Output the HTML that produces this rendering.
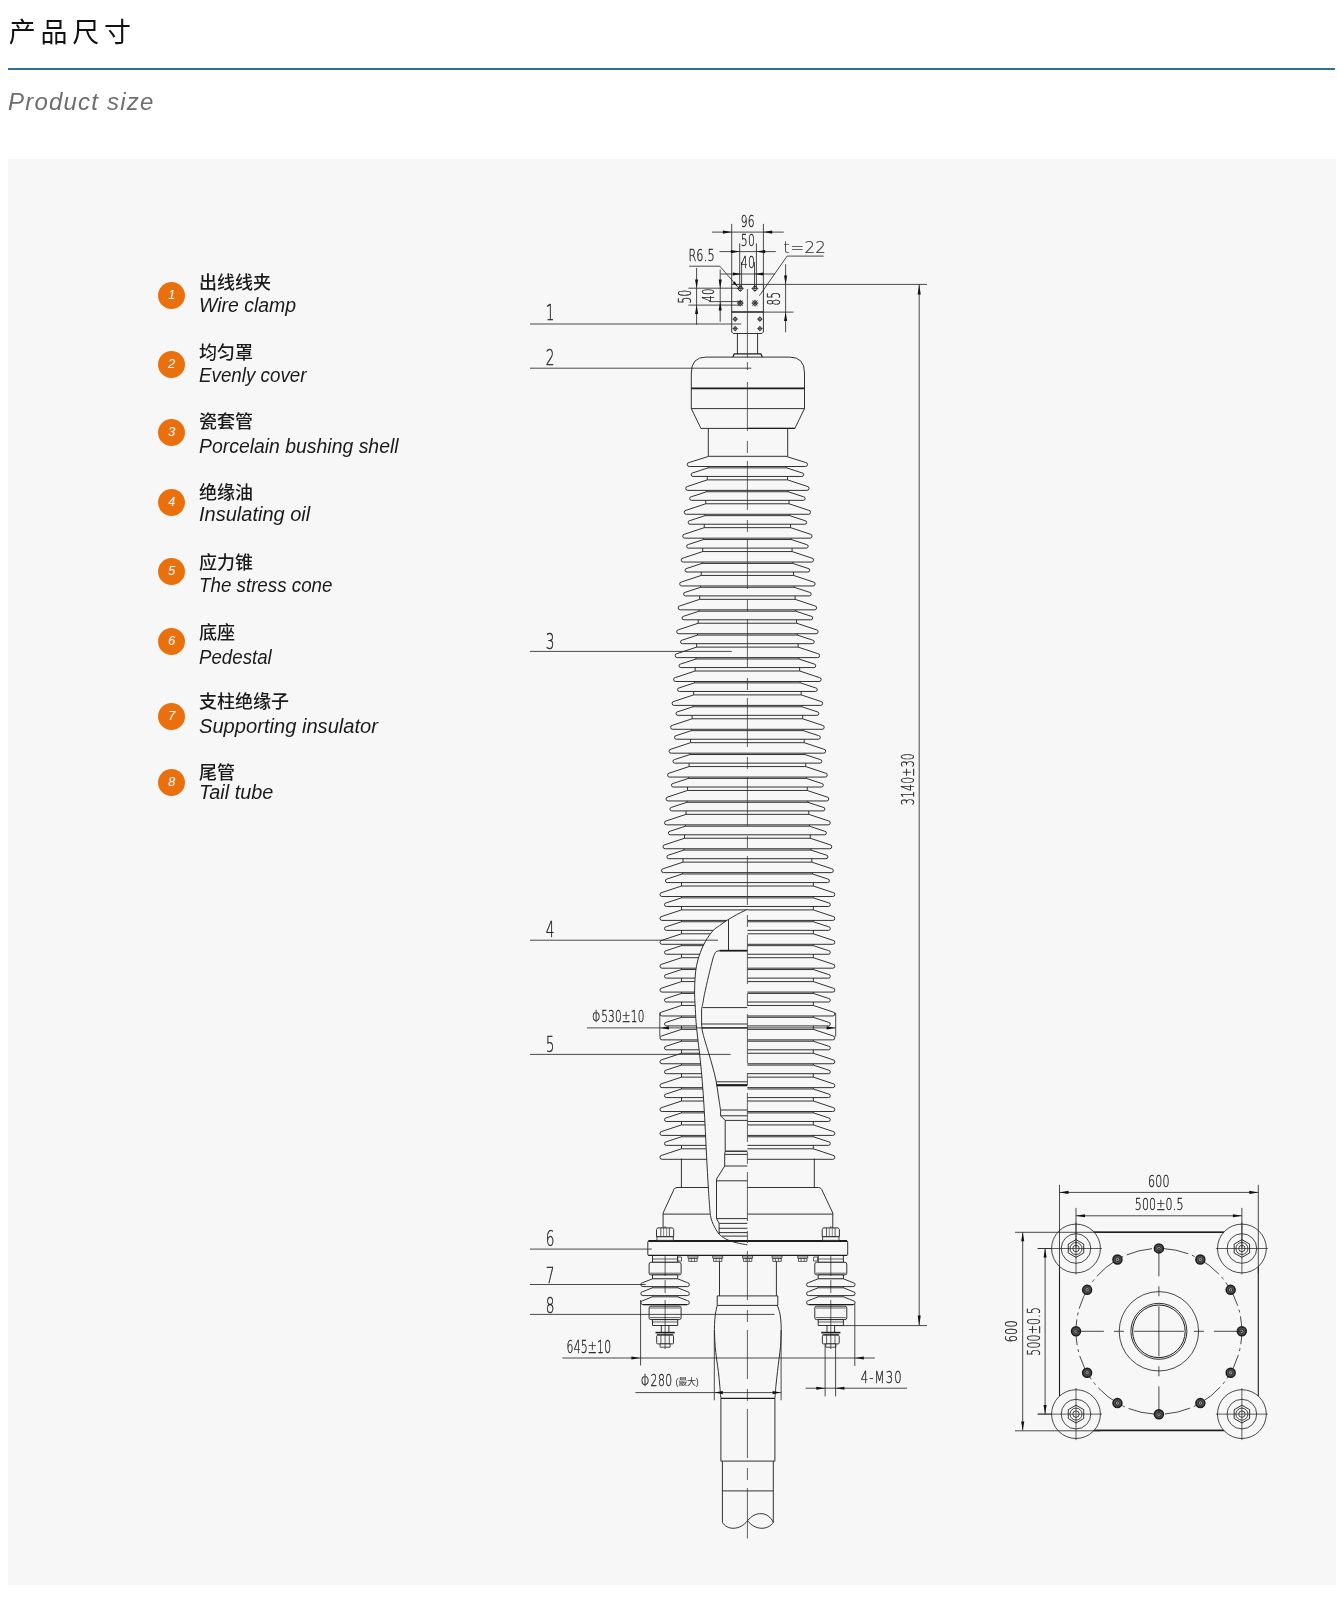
<!DOCTYPE html>
<html lang="zh-CN"><head><meta charset="utf-8"><title>产品尺寸 Product size</title>
<style>
*{margin:0;padding:0;box-sizing:border-box}
html,body{width:1338px;height:1600px;background:#fff;overflow:hidden}
body{position:relative;font-family:"Liberation Sans","Noto Sans CJK SC",sans-serif;color:#111}
.ttl{position:absolute;left:8.8px;top:13.4px;font-family:"Liberation Sans","Noto Sans CJK SC",sans-serif;font-size:27px;line-height:40px;letter-spacing:4.7px;color:#111;white-space:nowrap}
.rule{position:absolute;left:8px;top:68.4px;width:1327px;height:2px;background:#2f6f98}
.sub{position:absolute;left:8px;top:87px;font-size:24px;line-height:30px;font-style:italic;color:#6e6e6e;letter-spacing:1.2px;white-space:nowrap}
.panel{position:absolute;left:8px;top:159px;width:1328px;height:1426px;background:#f7f7f7}
.dot{position:absolute;left:158.2px;width:27px;height:27px;border-radius:50%;background:#ea700d;color:#fff;font-style:italic;font-size:12.5px;line-height:27px;text-align:center}
.zh{position:absolute;left:199px;font-family:"Liberation Sans","Noto Sans CJK SC",sans-serif;font-size:18px;line-height:22px;font-weight:500;color:#1a1a1a;white-space:nowrap}
.en{position:absolute;left:199px;font-size:19.5px;line-height:24px;font-style:italic;color:#1a1a1a;white-space:nowrap;transform-origin:0 50%}
svg{position:absolute;left:0;top:0;filter:grayscale(1)}
.ttl,.sub,.zh,.en{filter:grayscale(1)}
</style></head>
<body>
<div class="ttl">产品尺寸</div>
<div class="rule"></div>
<div class="sub">Product size</div>
<div class="panel"></div>
<div class="dot" style="top:282.2px">1</div>
<div class="zh" id="zh0" style="top:271.6px">出线线夹</div>
<div class="en" id="en0" style="top:293.2px;transform:scaleX(0.9980)">Wire clamp</div>
<div class="dot" style="top:350.7px">2</div>
<div class="zh" id="zh1" style="top:341.6px">均匀罩</div>
<div class="en" id="en1" style="top:362.5px;transform:scaleX(0.9630)">Evenly cover</div>
<div class="dot" style="top:418.6px">3</div>
<div class="zh" id="zh2" style="top:411.2px">瓷套管</div>
<div class="en" id="en2" style="top:434.3px;transform:scaleX(0.9950)">Porcelain bushing shell</div>
<div class="dot" style="top:489.4px">4</div>
<div class="zh" id="zh3" style="top:481.5px">绝缘油</div>
<div class="en" id="en3" style="top:502.4px;transform:scaleX(1.0260)">Insulating oil</div>
<div class="dot" style="top:558.4px">5</div>
<div class="zh" id="zh4" style="top:551.6px">应力锥</div>
<div class="en" id="en4" style="top:573.2px;transform:scaleX(0.9620)">The stress cone</div>
<div class="dot" style="top:628.3px">6</div>
<div class="zh" id="zh5" style="top:621.6px">底座</div>
<div class="en" id="en5" style="top:644.6px;transform:scaleX(0.9580)">Pedestal</div>
<div class="dot" style="top:702.5px">7</div>
<div class="zh" id="zh6" style="top:691.3px">支柱绝缘子</div>
<div class="en" id="en6" style="top:714.3px;transform:scaleX(1.0320)">Supporting insulator</div>
<div class="dot" style="top:769.4px">8</div>
<div class="zh" id="zh7" style="top:761.5px">尾管</div>
<div class="en" id="en7" style="top:780.0px;transform:scaleX(1.0190)">Tail tube</div>
<svg width="1338" height="1600" viewBox="0 0 1338 1600">
<defs><clipPath id="cc"><path d="M0 0H1338V1600H0Z M747.4 909.4C745.75 910.2 740.75 912.47 737.5 914.2C734.25 915.93 730.9 917.9 727.9 919.8C724.9 921.7 722.02 923.77 719.5 925.6C716.98 927.43 715.13 928.18 712.8 930.8C710.47 933.42 707.6 937.63 705.5 941.3C703.4 944.97 701.68 948.8 700.2 952.8C698.72 956.8 697.47 960.95 696.6 965.3C695.73 969.65 695.33 974.02 695 978.9C694.67 983.78 694.57 990.13 694.6 994.6C694.63 999.07 694.97 1001.23 695.2 1005.7C695.43 1010.17 695.6 1016.17 696 1021.4C696.4 1026.63 696.98 1031.52 697.6 1037.1C698.22 1042.68 699 1048.45 699.7 1054.9C700.4 1061.35 701.15 1068.3 701.8 1075.8C702.45 1083.3 703.07 1091.87 703.6 1099.9C704.13 1107.93 704.5 1114.5 705 1124C705.5 1133.5 706.05 1146.4 706.6 1156.9C707.15 1167.4 707.77 1178.33 708.3 1187C708.83 1195.67 709.35 1203.73 709.8 1208.9C710.25 1214.07 710.42 1215.42 711 1218C711.58 1220.58 712.47 1222.47 713.3 1224.4C714.13 1226.33 715.03 1227.98 716 1229.6C716.97 1231.22 717.85 1232.77 719.1 1234.1C720.35 1235.43 721.88 1236.57 723.5 1237.6C725.12 1238.63 726.55 1239.42 728.8 1240.3C731.05 1241.18 733.9 1242.15 737 1242.9C740.1 1243.65 745.67 1244.48 747.4 1244.8Z" clip-rule="evenodd"/></clipPath></defs>
<style>.d{fill:none;stroke:#1c1c1c;stroke-width:.9;stroke-linejoin:round}.dl{stroke:#2a2a2a;stroke-width:.85}.ar{fill:#111;stroke:none}.ct{font-family:"DejaVu Sans","Liberation Sans",sans-serif;font-weight:200;fill:#222;stroke:#222;stroke-width:.35}.ct2{font-family:"DejaVu Sans","Liberation Sans",sans-serif;font-weight:200;fill:#333;stroke:#333;stroke-width:.2}.cz{font-family:"Liberation Sans","Noto Sans CJK SC",sans-serif;fill:#333;stroke:none}</style>
<g class="d">
<g clip-path="url(#cc)"><line x1="708.3" y1="428.4" x2="708.3" y2="456.3"/>
<line x1="787.7" y1="428.4" x2="787.7" y2="456.3"/>
<line x1="708.17" y1="466.5" x2="708.17" y2="467.85"/>
<line x1="786.63" y1="466.5" x2="786.63" y2="467.85"/>
<line x1="707.28" y1="476.45" x2="707.28" y2="479.89"/>
<line x1="787.52" y1="476.45" x2="787.52" y2="479.89"/>
<line x1="706.65" y1="490.39" x2="706.65" y2="491.74"/>
<line x1="788.15" y1="490.39" x2="788.15" y2="491.74"/>
<line x1="705.77" y1="500.34" x2="705.77" y2="503.78"/>
<line x1="789.03" y1="500.34" x2="789.03" y2="503.78"/>
<line x1="705.13" y1="514.28" x2="705.13" y2="515.63"/>
<line x1="789.67" y1="514.28" x2="789.67" y2="515.63"/>
<line x1="704.25" y1="524.23" x2="704.25" y2="527.67"/>
<line x1="790.55" y1="524.23" x2="790.55" y2="527.67"/>
<line x1="703.62" y1="538.17" x2="703.62" y2="539.52"/>
<line x1="791.18" y1="538.17" x2="791.18" y2="539.52"/>
<line x1="702.73" y1="548.12" x2="702.73" y2="551.56"/>
<line x1="792.07" y1="548.12" x2="792.07" y2="551.56"/>
<line x1="702.1" y1="562.06" x2="702.1" y2="563.41"/>
<line x1="792.7" y1="562.06" x2="792.7" y2="563.41"/>
<line x1="701.21" y1="572.01" x2="701.21" y2="575.45"/>
<line x1="793.59" y1="572.01" x2="793.59" y2="575.45"/>
<line x1="700.58" y1="585.95" x2="700.58" y2="587.3"/>
<line x1="794.22" y1="585.95" x2="794.22" y2="587.3"/>
<line x1="699.7" y1="595.9" x2="699.7" y2="599.34"/>
<line x1="795.1" y1="595.9" x2="795.1" y2="599.34"/>
<line x1="699.07" y1="609.84" x2="699.07" y2="611.19"/>
<line x1="795.73" y1="609.84" x2="795.73" y2="611.19"/>
<line x1="698.18" y1="619.79" x2="698.18" y2="623.23"/>
<line x1="796.62" y1="619.79" x2="796.62" y2="623.23"/>
<line x1="697.55" y1="633.73" x2="697.55" y2="635.08"/>
<line x1="797.25" y1="633.73" x2="797.25" y2="635.08"/>
<line x1="696.66" y1="643.68" x2="696.66" y2="647.12"/>
<line x1="798.14" y1="643.68" x2="798.14" y2="647.12"/>
<line x1="696.03" y1="657.62" x2="696.03" y2="658.97"/>
<line x1="798.77" y1="657.62" x2="798.77" y2="658.97"/>
<line x1="695.15" y1="667.57" x2="695.15" y2="671.01"/>
<line x1="799.65" y1="667.57" x2="799.65" y2="671.01"/>
<line x1="694.52" y1="681.51" x2="694.52" y2="682.86"/>
<line x1="800.28" y1="681.51" x2="800.28" y2="682.86"/>
<line x1="693.63" y1="691.46" x2="693.63" y2="694.9"/>
<line x1="801.17" y1="691.46" x2="801.17" y2="694.9"/>
<line x1="693" y1="705.4" x2="693" y2="706.75"/>
<line x1="801.8" y1="705.4" x2="801.8" y2="706.75"/>
<line x1="692.11" y1="715.35" x2="692.11" y2="718.79"/>
<line x1="802.69" y1="715.35" x2="802.69" y2="718.79"/>
<line x1="691.48" y1="729.29" x2="691.48" y2="730.64"/>
<line x1="803.32" y1="729.29" x2="803.32" y2="730.64"/>
<line x1="690.6" y1="739.24" x2="690.6" y2="742.68"/>
<line x1="804.2" y1="739.24" x2="804.2" y2="742.68"/>
<line x1="689.96" y1="753.18" x2="689.96" y2="754.53"/>
<line x1="804.84" y1="753.18" x2="804.84" y2="754.53"/>
<line x1="689.08" y1="763.13" x2="689.08" y2="766.57"/>
<line x1="805.72" y1="763.13" x2="805.72" y2="766.57"/>
<line x1="688.45" y1="777.07" x2="688.45" y2="778.42"/>
<line x1="806.35" y1="777.07" x2="806.35" y2="778.42"/>
<line x1="687.56" y1="787.02" x2="687.56" y2="790.46"/>
<line x1="807.24" y1="787.02" x2="807.24" y2="790.46"/>
<line x1="686.93" y1="800.96" x2="686.93" y2="802.31"/>
<line x1="807.87" y1="800.96" x2="807.87" y2="802.31"/>
<line x1="686.04" y1="810.91" x2="686.04" y2="814.35"/>
<line x1="808.75" y1="810.91" x2="808.75" y2="814.35"/>
<line x1="685.41" y1="824.85" x2="685.41" y2="826.2"/>
<line x1="809.39" y1="824.85" x2="809.39" y2="826.2"/>
<line x1="684.53" y1="834.8" x2="684.53" y2="838.24"/>
<line x1="810.27" y1="834.8" x2="810.27" y2="838.24"/>
<line x1="683.9" y1="848.74" x2="683.9" y2="850.09"/>
<line x1="810.9" y1="848.74" x2="810.9" y2="850.09"/>
<line x1="683.01" y1="858.69" x2="683.01" y2="862.13"/>
<line x1="811.79" y1="858.69" x2="811.79" y2="862.13"/>
<line x1="682.38" y1="872.63" x2="682.38" y2="873.98"/>
<line x1="812.42" y1="872.63" x2="812.42" y2="873.98"/>
<line x1="681.49" y1="882.58" x2="681.49" y2="886.02"/>
<line x1="813.31" y1="882.58" x2="813.31" y2="886.02"/>
<line x1="681.49" y1="896.52" x2="681.49" y2="897.87"/>
<line x1="813.31" y1="896.52" x2="813.31" y2="897.87"/>
<line x1="681.49" y1="906.47" x2="681.49" y2="909.91"/>
<line x1="813.31" y1="906.47" x2="813.31" y2="909.91"/>
<line x1="681.49" y1="920.41" x2="681.49" y2="921.76"/>
<line x1="813.31" y1="920.41" x2="813.31" y2="921.76"/>
<line x1="681.49" y1="930.36" x2="681.49" y2="933.8"/>
<line x1="813.31" y1="930.36" x2="813.31" y2="933.8"/>
<line x1="681.49" y1="944.3" x2="681.49" y2="945.65"/>
<line x1="813.31" y1="944.3" x2="813.31" y2="945.65"/>
<line x1="681.49" y1="954.25" x2="681.49" y2="957.69"/>
<line x1="813.31" y1="954.25" x2="813.31" y2="957.69"/>
<line x1="681.49" y1="968.19" x2="681.49" y2="969.54"/>
<line x1="813.31" y1="968.19" x2="813.31" y2="969.54"/>
<line x1="681.49" y1="978.14" x2="681.49" y2="981.58"/>
<line x1="813.31" y1="978.14" x2="813.31" y2="981.58"/>
<line x1="681.49" y1="992.08" x2="681.49" y2="993.43"/>
<line x1="813.31" y1="992.08" x2="813.31" y2="993.43"/>
<line x1="681.49" y1="1002.03" x2="681.49" y2="1005.47"/>
<line x1="813.31" y1="1002.03" x2="813.31" y2="1005.47"/>
<line x1="681.49" y1="1015.97" x2="681.49" y2="1017.32"/>
<line x1="813.31" y1="1015.97" x2="813.31" y2="1017.32"/>
<line x1="681.49" y1="1025.92" x2="681.49" y2="1029.36"/>
<line x1="813.31" y1="1025.92" x2="813.31" y2="1029.36"/>
<line x1="681.49" y1="1039.86" x2="681.49" y2="1041.21"/>
<line x1="813.31" y1="1039.86" x2="813.31" y2="1041.21"/>
<line x1="681.49" y1="1049.81" x2="681.49" y2="1053.25"/>
<line x1="813.31" y1="1049.81" x2="813.31" y2="1053.25"/>
<line x1="681.49" y1="1063.75" x2="681.49" y2="1065.1"/>
<line x1="813.31" y1="1063.75" x2="813.31" y2="1065.1"/>
<line x1="681.49" y1="1073.7" x2="681.49" y2="1077.14"/>
<line x1="813.31" y1="1073.7" x2="813.31" y2="1077.14"/>
<line x1="681.49" y1="1087.64" x2="681.49" y2="1088.99"/>
<line x1="813.31" y1="1087.64" x2="813.31" y2="1088.99"/>
<line x1="681.49" y1="1097.59" x2="681.49" y2="1101.03"/>
<line x1="813.31" y1="1097.59" x2="813.31" y2="1101.03"/>
<line x1="681.49" y1="1111.53" x2="681.49" y2="1112.88"/>
<line x1="813.31" y1="1111.53" x2="813.31" y2="1112.88"/>
<line x1="681.49" y1="1121.48" x2="681.49" y2="1124.92"/>
<line x1="813.31" y1="1121.48" x2="813.31" y2="1124.92"/>
<line x1="681.49" y1="1135.42" x2="681.49" y2="1136.77"/>
<line x1="813.31" y1="1135.42" x2="813.31" y2="1136.77"/>
<line x1="681.49" y1="1145.37" x2="681.49" y2="1148.81"/>
<line x1="813.31" y1="1145.37" x2="813.31" y2="1148.81"/>
<path d="M708.8 456.3L689.2 462.5A2 2 0 0 0 689.4 466.5L805.4 466.5A2 2 0 0 0 805.6 462.5L786 456.3Z M708.17 467.85L692.89 472.85A1.8 1.8 0 0 0 693.07 476.45L801.73 476.45A1.8 1.8 0 0 0 801.91 472.85L786.63 467.85Z M707.28 479.89L687.68 486.39A2 2 0 0 0 687.88 490.39L806.92 490.39A2 2 0 0 0 807.12 486.39L787.52 479.89Z M706.65 491.74L691.37 496.74A1.8 1.8 0 0 0 691.55 500.34L803.25 500.34A1.8 1.8 0 0 0 803.43 496.74L788.15 491.74Z M705.77 503.78L686.17 510.28A2 2 0 0 0 686.37 514.28L808.43 514.28A2 2 0 0 0 808.63 510.28L789.03 503.78Z M705.13 515.63L689.85 520.63A1.8 1.8 0 0 0 690.03 524.23L804.77 524.23A1.8 1.8 0 0 0 804.95 520.63L789.67 515.63Z M704.25 527.67L684.65 534.17A2 2 0 0 0 684.85 538.17L809.95 538.17A2 2 0 0 0 810.15 534.17L790.55 527.67Z M703.62 539.52L688.34 544.52A1.8 1.8 0 0 0 688.52 548.12L806.28 548.12A1.8 1.8 0 0 0 806.46 544.52L791.18 539.52Z M702.73 551.56L683.13 558.06A2 2 0 0 0 683.33 562.06L811.47 562.06A2 2 0 0 0 811.67 558.06L792.07 551.56Z M702.1 563.41L686.82 568.41A1.8 1.8 0 0 0 687 572.01L807.8 572.01A1.8 1.8 0 0 0 807.98 568.41L792.7 563.41Z M701.21 575.45L681.61 581.95A2 2 0 0 0 681.81 585.95L812.99 585.95A2 2 0 0 0 813.19 581.95L793.59 575.45Z M700.58 587.3L685.3 592.3A1.8 1.8 0 0 0 685.48 595.9L809.32 595.9A1.8 1.8 0 0 0 809.5 592.3L794.22 587.3Z M699.7 599.34L680.1 605.84A2 2 0 0 0 680.3 609.84L814.5 609.84A2 2 0 0 0 814.7 605.84L795.1 599.34Z M699.07 611.19L683.79 616.19A1.8 1.8 0 0 0 683.97 619.79L810.83 619.79A1.8 1.8 0 0 0 811.01 616.19L795.73 611.19Z M698.18 623.23L678.58 629.73A2 2 0 0 0 678.78 633.73L816.02 633.73A2 2 0 0 0 816.22 629.73L796.62 623.23Z M697.55 635.08L682.27 640.08A1.8 1.8 0 0 0 682.45 643.68L812.35 643.68A1.8 1.8 0 0 0 812.53 640.08L797.25 635.08Z M696.66 647.12L677.06 653.62A2 2 0 0 0 677.26 657.62L817.54 657.62A2 2 0 0 0 817.74 653.62L798.14 647.12Z M696.03 658.97L680.75 663.97A1.8 1.8 0 0 0 680.93 667.57L813.87 667.57A1.8 1.8 0 0 0 814.05 663.97L798.77 658.97Z M695.15 671.01L675.55 677.51A2 2 0 0 0 675.75 681.51L819.05 681.51A2 2 0 0 0 819.25 677.51L799.65 671.01Z M694.52 682.86L679.24 687.86A1.8 1.8 0 0 0 679.42 691.46L815.38 691.46A1.8 1.8 0 0 0 815.56 687.86L800.28 682.86Z M693.63 694.9L674.03 701.4A2 2 0 0 0 674.23 705.4L820.57 705.4A2 2 0 0 0 820.77 701.4L801.17 694.9Z M693 706.75L677.72 711.75A1.8 1.8 0 0 0 677.9 715.35L816.9 715.35A1.8 1.8 0 0 0 817.08 711.75L801.8 706.75Z M692.11 718.79L672.51 725.29A2 2 0 0 0 672.71 729.29L822.09 729.29A2 2 0 0 0 822.29 725.29L802.69 718.79Z M691.48 730.64L676.2 735.64A1.8 1.8 0 0 0 676.38 739.24L818.42 739.24A1.8 1.8 0 0 0 818.6 735.64L803.32 730.64Z M690.6 742.68L671 749.18A2 2 0 0 0 671.2 753.18L823.6 753.18A2 2 0 0 0 823.8 749.18L804.2 742.68Z M689.96 754.53L674.68 759.53A1.8 1.8 0 0 0 674.86 763.13L819.94 763.13A1.8 1.8 0 0 0 820.12 759.53L804.84 754.53Z M689.08 766.57L669.48 773.07A2 2 0 0 0 669.68 777.07L825.12 777.07A2 2 0 0 0 825.32 773.07L805.72 766.57Z M688.45 778.42L673.17 783.42A1.8 1.8 0 0 0 673.35 787.02L821.45 787.02A1.8 1.8 0 0 0 821.63 783.42L806.35 778.42Z M687.56 790.46L667.96 796.96A2 2 0 0 0 668.16 800.96L826.64 800.96A2 2 0 0 0 826.84 796.96L807.24 790.46Z M686.93 802.31L671.65 807.31A1.8 1.8 0 0 0 671.83 810.91L822.97 810.91A1.8 1.8 0 0 0 823.15 807.31L807.87 802.31Z M686.04 814.35L666.44 820.85A2 2 0 0 0 666.64 824.85L828.15 824.85A2 2 0 0 0 828.36 820.85L808.75 814.35Z M685.41 826.2L670.13 831.2A1.8 1.8 0 0 0 670.31 834.8L824.49 834.8A1.8 1.8 0 0 0 824.67 831.2L809.39 826.2Z M684.53 838.24L664.93 844.74A2 2 0 0 0 665.13 848.74L829.67 848.74A2 2 0 0 0 829.87 844.74L810.27 838.24Z M683.9 850.09L668.62 855.09A1.8 1.8 0 0 0 668.8 858.69L826 858.69A1.8 1.8 0 0 0 826.18 855.09L810.9 850.09Z M683.01 862.13L663.41 868.63A2 2 0 0 0 663.61 872.63L831.19 872.63A2 2 0 0 0 831.39 868.63L811.79 862.13Z M682.38 873.98L667.1 878.98A1.8 1.8 0 0 0 667.28 882.58L827.52 882.58A1.8 1.8 0 0 0 827.7 878.98L812.42 873.98Z M681.49 886.02L661.89 892.52A2 2 0 0 0 662.09 896.52L832.71 896.52A2 2 0 0 0 832.91 892.52L813.31 886.02Z M681.49 897.87L666.21 902.87A1.8 1.8 0 0 0 666.39 906.47L828.41 906.47A1.8 1.8 0 0 0 828.59 902.87L813.31 897.87Z M681.49 909.91L661.89 916.41A2 2 0 0 0 662.09 920.41L832.71 920.41A2 2 0 0 0 832.91 916.41L813.31 909.91Z M681.49 921.76L666.21 926.76A1.8 1.8 0 0 0 666.39 930.36L828.41 930.36A1.8 1.8 0 0 0 828.59 926.76L813.31 921.76Z M681.49 933.8L661.89 940.3A2 2 0 0 0 662.09 944.3L832.71 944.3A2 2 0 0 0 832.91 940.3L813.31 933.8Z M681.49 945.65L666.21 950.65A1.8 1.8 0 0 0 666.39 954.25L828.41 954.25A1.8 1.8 0 0 0 828.59 950.65L813.31 945.65Z M681.49 957.69L661.89 964.19A2 2 0 0 0 662.09 968.19L832.71 968.19A2 2 0 0 0 832.91 964.19L813.31 957.69Z M681.49 969.54L666.21 974.54A1.8 1.8 0 0 0 666.39 978.14L828.41 978.14A1.8 1.8 0 0 0 828.59 974.54L813.31 969.54Z M681.49 981.58L661.89 988.08A2 2 0 0 0 662.09 992.08L832.71 992.08A2 2 0 0 0 832.91 988.08L813.31 981.58Z M681.49 993.43L666.21 998.43A1.8 1.8 0 0 0 666.39 1002.03L828.41 1002.03A1.8 1.8 0 0 0 828.59 998.43L813.31 993.43Z M681.49 1005.47L661.89 1011.97A2 2 0 0 0 662.09 1015.97L832.71 1015.97A2 2 0 0 0 832.91 1011.97L813.31 1005.47Z M681.49 1017.32L666.21 1022.32A1.8 1.8 0 0 0 666.39 1025.92L828.41 1025.92A1.8 1.8 0 0 0 828.59 1022.32L813.31 1017.32Z M681.49 1029.36L661.89 1035.86A2 2 0 0 0 662.09 1039.86L832.71 1039.86A2 2 0 0 0 832.91 1035.86L813.31 1029.36Z M681.49 1041.21L666.21 1046.21A1.8 1.8 0 0 0 666.39 1049.81L828.41 1049.81A1.8 1.8 0 0 0 828.59 1046.21L813.31 1041.21Z M681.49 1053.25L661.89 1059.75A2 2 0 0 0 662.09 1063.75L832.71 1063.75A2 2 0 0 0 832.91 1059.75L813.31 1053.25Z M681.49 1065.1L666.21 1070.1A1.8 1.8 0 0 0 666.39 1073.7L828.41 1073.7A1.8 1.8 0 0 0 828.59 1070.1L813.31 1065.1Z M681.49 1077.14L661.89 1083.64A2 2 0 0 0 662.09 1087.64L832.71 1087.64A2 2 0 0 0 832.91 1083.64L813.31 1077.14Z M681.49 1088.99L666.21 1093.99A1.8 1.8 0 0 0 666.39 1097.59L828.41 1097.59A1.8 1.8 0 0 0 828.59 1093.99L813.31 1088.99Z M681.49 1101.03L661.89 1107.53A2 2 0 0 0 662.09 1111.53L832.71 1111.53A2 2 0 0 0 832.91 1107.53L813.31 1101.03Z M681.49 1112.88L666.21 1117.88A1.8 1.8 0 0 0 666.39 1121.48L828.41 1121.48A1.8 1.8 0 0 0 828.59 1117.88L813.31 1112.88Z M681.49 1124.92L661.89 1131.42A2 2 0 0 0 662.09 1135.42L832.71 1135.42A2 2 0 0 0 832.91 1131.42L813.31 1124.92Z M681.49 1136.77L666.21 1141.77A1.8 1.8 0 0 0 666.39 1145.37L828.41 1145.37A1.8 1.8 0 0 0 828.59 1141.77L813.31 1136.77Z M681.49 1148.81L661.89 1155.31A2 2 0 0 0 662.09 1159.31L832.71 1159.31A2 2 0 0 0 832.91 1155.31L813.31 1148.81Z"/>
<line x1="681.4" y1="1158.6" x2="681.4" y2="1187.5"/>
<line x1="814.3" y1="1158.6" x2="814.3" y2="1187.5"/>
<path d="M663.1 1240.9L663.1 1213L674 1189.3Q675 1187.5 677 1187.5L818.6 1187.5Q820.6 1187.5 821.6 1189.3L832.8 1213L832.8 1240.9"/>
<line x1="663.1" y1="1214.1" x2="832.8" y2="1214.1"/></g>
<path d="M731.7 284.4L763.4 284.4L763.4 332L761.9 333.5L733.2 333.5L731.7 332Z"/>
<line x1="731.7" y1="312.1" x2="763.4" y2="312.1" stroke-width="1.5"/>
<circle cx="735.2" cy="319.1" r="1.7" stroke-width="0.8"/>
<line x1="732.5" y1="319.1" x2="737.9" y2="319.1" stroke-width="0.7"/>
<line x1="735.2" y1="316.4" x2="735.2" y2="321.8" stroke-width="0.7"/>
<circle cx="759.9" cy="319.1" r="1.7" stroke-width="0.8"/>
<line x1="757.2" y1="319.1" x2="762.6" y2="319.1" stroke-width="0.7"/>
<line x1="759.9" y1="316.4" x2="759.9" y2="321.8" stroke-width="0.7"/>
<circle cx="735.2" cy="328.6" r="1.7" stroke-width="0.8"/>
<line x1="732.5" y1="328.6" x2="737.9" y2="328.6" stroke-width="0.7"/>
<line x1="735.2" y1="325.9" x2="735.2" y2="331.3" stroke-width="0.7"/>
<circle cx="759.9" cy="328.6" r="1.7" stroke-width="0.8"/>
<line x1="757.2" y1="328.6" x2="762.6" y2="328.6" stroke-width="0.7"/>
<line x1="759.9" y1="325.9" x2="759.9" y2="331.3" stroke-width="0.7"/>
<circle cx="740.3" cy="288.5" r="2.2" stroke-width="0.9"/>
<line x1="736.9" y1="288.5" x2="743.7" y2="288.5" stroke-width="0.7"/>
<line x1="740.3" y1="285.1" x2="740.3" y2="291.9" stroke-width="0.7"/>
<circle cx="754.9" cy="288.5" r="2.2" stroke-width="0.9"/>
<line x1="751.5" y1="288.5" x2="758.3" y2="288.5" stroke-width="0.7"/>
<line x1="754.9" y1="285.1" x2="754.9" y2="291.9" stroke-width="0.7"/>
<circle cx="740.3" cy="303.1" r="2.2" stroke-width="0.9"/>
<line x1="736.9" y1="303.1" x2="743.7" y2="303.1" stroke-width="0.7"/>
<line x1="740.3" y1="299.7" x2="740.3" y2="306.5" stroke-width="0.7"/>
<path d="M737.7 305.7L742.9 300.5M737.7 300.5L742.9 305.7" stroke-width="0.8"/>
<circle cx="754.9" cy="303.1" r="2.2" stroke-width="0.9"/>
<line x1="751.5" y1="303.1" x2="758.3" y2="303.1" stroke-width="0.7"/>
<line x1="754.9" y1="299.7" x2="754.9" y2="306.5" stroke-width="0.7"/>
<path d="M752.3 305.7L757.5 300.5M752.3 300.5L757.5 305.7" stroke-width="0.8"/>
<line x1="737.4" y1="333.5" x2="737.4" y2="353.8"/>
<line x1="757.6" y1="333.5" x2="757.6" y2="353.8"/>
<path d="M732.9 357.1L734.2 353.8L760.9 353.8L762.3 357.1" stroke-width="1.2"/>
<path d="M691.3 408.6L691.3 373Q691.3 357.1 706 357.1L789.8 357.1Q804.5 357.1 804.5 373L804.5 408.6L794.9 428.4L700.9 428.4Z"/>
<line x1="691.3" y1="388.4" x2="804.5" y2="388.4" stroke-width="1.6"/>
<line x1="691.3" y1="408.6" x2="804.5" y2="408.6"/>
<line x1="747.4" y1="428.4" x2="794.9" y2="428.4" stroke-width="1.4"/>
<line x1="719.5" y1="1261.5" x2="719.5" y2="1295.9"/>
<line x1="776.4" y1="1261.5" x2="776.4" y2="1295.9"/>
<rect x="717.2" y="1295.9" width="60.6" height="9.5"/>
<path d="M717.2 1305.4C716.9 1306.83 715.85 1310.82 715.4 1314C714.95 1317.18 714.63 1321 714.5 1324.5C714.37 1328 714.48 1331.33 714.6 1335C714.72 1338.67 714.87 1342.5 715.2 1346.5C715.53 1350.5 716.07 1354.82 716.6 1359C717.13 1363.18 717.88 1367.27 718.4 1371.6C718.92 1375.93 719.28 1380.55 719.7 1385C720.12 1389.45 720.7 1396.08 720.9 1398.3"/>
<path d="M777.4 1305.4C777.83 1306.83 779.38 1310.82 780 1314C780.62 1317.18 780.92 1321 781.1 1324.5C781.28 1328 781.2 1331.33 781.1 1335C781 1338.67 780.85 1342.5 780.5 1346.5C780.15 1350.5 779.5 1354.82 779 1359C778.5 1363.18 778 1367.27 777.5 1371.6C777 1375.93 776.43 1380.55 776 1385C775.57 1389.45 775.08 1396.08 774.9 1398.3"/>
<line x1="720.9" y1="1398.3" x2="774.9" y2="1398.3" stroke-width="1.2"/>
<path d="M720.9 1398.3V1461.1M774.9 1398.3V1461.1"/>
<line x1="720.9" y1="1461.1" x2="774.9" y2="1461.1"/>
<path d="M722.4 1461.1V1522.3M773.3 1461.1V1522.3"/>
<line x1="722.4" y1="1490.9" x2="773.3" y2="1490.9"/>
<path d="M722.4 1522.3C727 1530.5 740 1530.5 747.6 1520.7C755 1511 768 1511 773.3 1522.3"/>
<path d="M747.6 1520.7C755 1530.5 768 1530.5 773.3 1522.3"/>
<rect x="652.5" y="1255.5" width="25.2" height="6.8" fill="#f7f7f7"/>
<line x1="652.5" y1="1259" x2="677.7" y2="1259" stroke-width="0.7"/>
<rect x="649.1" y="1262.3" width="32" height="12.6" rx="1.8" fill="#f7f7f7"/>
<line x1="650.1" y1="1273.2" x2="680.1" y2="1273.2" stroke-width="0.7"/>
<rect x="652.5" y="1274.9" width="25.2" height="4.2" fill="#f7f7f7"/>
<path d="M652.5 1278.8L642.7 1282.7A1.9 1.9 0 0 0 642.9 1286.6L687.3 1286.6A1.9 1.9 0 0 0 687.5 1282.7L677.7 1278.8Z" fill="#f7f7f7"/>
<line x1="652.5" y1="1286.6" x2="652.5" y2="1287.8"/>
<line x1="677.7" y1="1286.6" x2="677.7" y2="1287.8"/>
<path d="M652.5 1287.8L642.7 1291.7A1.9 1.9 0 0 0 642.9 1295.6L687.3 1295.6A1.9 1.9 0 0 0 687.5 1291.7L677.7 1287.8Z" fill="#f7f7f7"/>
<line x1="652.5" y1="1295.6" x2="652.5" y2="1296.8"/>
<line x1="677.7" y1="1295.6" x2="677.7" y2="1296.8"/>
<path d="M652.5 1296.8L642.7 1300.7A1.9 1.9 0 0 0 642.9 1304.6L687.3 1304.6A1.9 1.9 0 0 0 687.5 1300.7L677.7 1296.8Z" fill="#f7f7f7"/>
<line x1="643.1" y1="1304.6" x2="687.1" y2="1304.6" stroke-width="1.4"/>
<rect x="649.1" y="1306.2" width="32" height="13.4" rx="1.8" fill="#f7f7f7"/>
<line x1="650.1" y1="1308" x2="680.1" y2="1308" stroke-width="0.7"/>
<line x1="650.1" y1="1317.6" x2="680.1" y2="1317.6" stroke-width="0.7"/>
<rect x="652.5" y="1319.6" width="25.2" height="5.9" fill="#f7f7f7"/>
<line x1="652.5" y1="1322" x2="677.7" y2="1322" stroke-width="0.7"/>
<line x1="661.3" y1="1325.5" x2="661.3" y2="1332.2"/>
<line x1="668.9" y1="1325.5" x2="668.9" y2="1332.2"/>
<line x1="655.5" y1="1332.6" x2="674.7" y2="1332.6" stroke-width="1.6"/>
<line x1="656.9" y1="1334.6" x2="673.3" y2="1334.6" stroke-width="0.8"/>
<rect x="656.7" y="1335.2" width="16.8" height="8.7" rx="1" fill="#f7f7f7"/>
<line x1="660.9" y1="1335.2" x2="660.9" y2="1343.9" stroke-width="0.7"/>
<line x1="669.3" y1="1335.2" x2="669.3" y2="1343.9" stroke-width="0.7"/>
<rect x="660.1" y="1343.9" width="10" height="3.3" stroke-width="0.8" fill="#f7f7f7"/>
<path d="M665.1 1226V1276M665.1 1280V1293M665.1 1300V1349" stroke-width="0.7"/>
<rect x="818.2" y="1255.5" width="25.2" height="6.8" fill="#f7f7f7"/>
<line x1="818.2" y1="1259" x2="843.4" y2="1259" stroke-width="0.7"/>
<rect x="814.8" y="1262.3" width="32" height="12.6" rx="1.8" fill="#f7f7f7"/>
<line x1="815.8" y1="1273.2" x2="845.8" y2="1273.2" stroke-width="0.7"/>
<rect x="818.2" y="1274.9" width="25.2" height="4.2" fill="#f7f7f7"/>
<path d="M818.2 1278.8L808.4 1282.7A1.9 1.9 0 0 0 808.6 1286.6L853 1286.6A1.9 1.9 0 0 0 853.2 1282.7L843.4 1278.8Z" fill="#f7f7f7"/>
<line x1="818.2" y1="1286.6" x2="818.2" y2="1287.8"/>
<line x1="843.4" y1="1286.6" x2="843.4" y2="1287.8"/>
<path d="M818.2 1287.8L808.4 1291.7A1.9 1.9 0 0 0 808.6 1295.6L853 1295.6A1.9 1.9 0 0 0 853.2 1291.7L843.4 1287.8Z" fill="#f7f7f7"/>
<line x1="818.2" y1="1295.6" x2="818.2" y2="1296.8"/>
<line x1="843.4" y1="1295.6" x2="843.4" y2="1296.8"/>
<path d="M818.2 1296.8L808.4 1300.7A1.9 1.9 0 0 0 808.6 1304.6L853 1304.6A1.9 1.9 0 0 0 853.2 1300.7L843.4 1296.8Z" fill="#f7f7f7"/>
<line x1="808.8" y1="1304.6" x2="852.8" y2="1304.6" stroke-width="1.4"/>
<rect x="814.8" y="1306.2" width="32" height="13.4" rx="1.8" fill="#f7f7f7"/>
<line x1="815.8" y1="1308" x2="845.8" y2="1308" stroke-width="0.7"/>
<line x1="815.8" y1="1317.6" x2="845.8" y2="1317.6" stroke-width="0.7"/>
<rect x="818.2" y="1319.6" width="25.2" height="5.9" fill="#f7f7f7"/>
<line x1="818.2" y1="1322" x2="843.4" y2="1322" stroke-width="0.7"/>
<line x1="827" y1="1325.5" x2="827" y2="1332.2"/>
<line x1="834.6" y1="1325.5" x2="834.6" y2="1332.2"/>
<line x1="821.2" y1="1332.6" x2="840.4" y2="1332.6" stroke-width="1.6"/>
<line x1="822.6" y1="1334.6" x2="839" y2="1334.6" stroke-width="0.8"/>
<rect x="822.4" y="1335.2" width="16.8" height="8.7" rx="1" fill="#f7f7f7"/>
<line x1="826.6" y1="1335.2" x2="826.6" y2="1343.9" stroke-width="0.7"/>
<line x1="835" y1="1335.2" x2="835" y2="1343.9" stroke-width="0.7"/>
<rect x="825.8" y="1343.9" width="10" height="3.3" stroke-width="0.8" fill="#f7f7f7"/>
<path d="M830.8 1226V1276M830.8 1280V1293M830.8 1300V1349" stroke-width="0.7"/>
<rect x="647.8" y="1240.9" width="199.9" height="14.6" rx="1.2" fill="#f7f7f7"/>
<line x1="648.5" y1="1241" x2="847" y2="1241" stroke-width="2"/>
<line x1="648.5" y1="1255.4" x2="847" y2="1255.4" stroke-width="1.3"/>
<rect x="687.9" y="1256" width="10" height="2.2" stroke-width="0.7"/>
<rect x="688.7" y="1258.2" width="8.4" height="3.2" stroke-width="0.7"/>
<line x1="691.3" y1="1258.2" x2="691.3" y2="1261.4" stroke-width="0.6"/>
<line x1="694.5" y1="1258.2" x2="694.5" y2="1261.4" stroke-width="0.6"/>
<rect x="712.7" y="1256" width="10" height="2.2" stroke-width="0.7"/>
<rect x="713.5" y="1258.2" width="8.4" height="3.2" stroke-width="0.7"/>
<line x1="716.1" y1="1258.2" x2="716.1" y2="1261.4" stroke-width="0.6"/>
<line x1="719.3" y1="1258.2" x2="719.3" y2="1261.4" stroke-width="0.6"/>
<rect x="742.6" y="1256" width="10" height="2.2" stroke-width="0.7"/>
<rect x="743.4" y="1258.2" width="8.4" height="3.2" stroke-width="0.7"/>
<line x1="746" y1="1258.2" x2="746" y2="1261.4" stroke-width="0.6"/>
<line x1="749.2" y1="1258.2" x2="749.2" y2="1261.4" stroke-width="0.6"/>
<rect x="772" y="1256" width="10" height="2.2" stroke-width="0.7"/>
<rect x="772.8" y="1258.2" width="8.4" height="3.2" stroke-width="0.7"/>
<line x1="775.4" y1="1258.2" x2="775.4" y2="1261.4" stroke-width="0.6"/>
<line x1="778.6" y1="1258.2" x2="778.6" y2="1261.4" stroke-width="0.6"/>
<rect x="797.7" y="1256" width="10" height="2.2" stroke-width="0.7"/>
<rect x="798.5" y="1258.2" width="8.4" height="3.2" stroke-width="0.7"/>
<line x1="801.1" y1="1258.2" x2="801.1" y2="1261.4" stroke-width="0.6"/>
<line x1="804.3" y1="1258.2" x2="804.3" y2="1261.4" stroke-width="0.6"/>
<rect x="677.5" y="1257" width="4" height="4" stroke-width="0.7"/>
<rect x="813.6" y="1257" width="4" height="4" stroke-width="0.7"/>
<path d="M656.5 1236.6L656.5 1229.6L657.7 1227.9L672.5 1227.9L673.7 1229.6L673.7 1236.6Z" fill="#f7f7f7"/>
<line x1="660.8" y1="1227.9" x2="660.8" y2="1236.6" stroke-width="0.7"/>
<line x1="669.4" y1="1227.9" x2="669.4" y2="1236.6" stroke-width="0.7"/>
<line x1="663.6" y1="1227.9" x2="663.6" y2="1236.6" stroke-width="0.5"/>
<line x1="666.6" y1="1227.9" x2="666.6" y2="1236.6" stroke-width="0.5"/>
<rect x="656.9" y="1236.8" width="16.4" height="3.6" stroke-width="0.8" fill="#f7f7f7"/>
<path d="M822.2 1236.6L822.2 1229.6L823.4 1227.9L838.2 1227.9L839.4 1229.6L839.4 1236.6Z" fill="#f7f7f7"/>
<line x1="826.5" y1="1227.9" x2="826.5" y2="1236.6" stroke-width="0.7"/>
<line x1="835.1" y1="1227.9" x2="835.1" y2="1236.6" stroke-width="0.7"/>
<line x1="829.3" y1="1227.9" x2="829.3" y2="1236.6" stroke-width="0.5"/>
<line x1="832.3" y1="1227.9" x2="832.3" y2="1236.6" stroke-width="0.5"/>
<rect x="822.6" y="1236.8" width="16.4" height="3.6" stroke-width="0.8" fill="#f7f7f7"/>
<path d="M747.4 909.4C745.75 910.2 740.75 912.47 737.5 914.2C734.25 915.93 730.9 917.9 727.9 919.8C724.9 921.7 722.02 923.77 719.5 925.6C716.98 927.43 715.13 928.18 712.8 930.8C710.47 933.42 707.6 937.63 705.5 941.3C703.4 944.97 701.68 948.8 700.2 952.8C698.72 956.8 697.47 960.95 696.6 965.3C695.73 969.65 695.33 974.02 695 978.9C694.67 983.78 694.57 990.13 694.6 994.6C694.63 999.07 694.97 1001.23 695.2 1005.7C695.43 1010.17 695.6 1016.17 696 1021.4C696.4 1026.63 696.98 1031.52 697.6 1037.1C698.22 1042.68 699 1048.45 699.7 1054.9C700.4 1061.35 701.15 1068.3 701.8 1075.8C702.45 1083.3 703.07 1091.87 703.6 1099.9C704.13 1107.93 704.5 1114.5 705 1124C705.5 1133.5 706.05 1146.4 706.6 1156.9C707.15 1167.4 707.77 1178.33 708.3 1187C708.83 1195.67 709.35 1203.73 709.8 1208.9C710.25 1214.07 710.42 1215.42 711 1218C711.58 1220.58 712.47 1222.47 713.3 1224.4C714.13 1226.33 715.03 1227.98 716 1229.6C716.97 1231.22 717.85 1232.77 719.1 1234.1C720.35 1235.43 721.88 1236.57 723.5 1237.6C725.12 1238.63 726.55 1239.42 728.8 1240.3C731.05 1241.18 733.9 1242.15 737 1242.9C740.1 1243.65 745.67 1244.48 747.4 1244.8" stroke-width="0.9"/>
<line x1="728.5" y1="919.6" x2="728.5" y2="950.7"/>
<path d="M747.4 950.7L719.5 950.7" stroke-width="1.8"/>
<path d="M719.5 950.7C718.97 950.85 717.12 951.05 716.3 951.6C715.48 952.15 715.18 952.77 714.6 954C714.02 955.23 713.8 955.37 712.8 959C711.8 962.63 710 969.87 708.6 975.8C707.2 981.73 705.37 989.97 704.4 994.6C703.43 999.23 703.27 1001.28 702.8 1003.6C702.33 1005.92 701.8 1007.68 701.6 1008.5"/>
<line x1="701.6" y1="1008.5" x2="701.6" y2="1024"/>
<line x1="702.5" y1="1007.6" x2="747.4" y2="1007.6"/>
<line x1="701.6" y1="1024" x2="747.4" y2="1024"/>
<line x1="701.8" y1="1027.9" x2="747.4" y2="1027.9" stroke-width="1.4"/>
<path d="M701.6 1024C701.72 1025.13 701.73 1027.97 702.3 1030.8C702.87 1033.63 703.95 1037.33 705 1041C706.05 1044.67 707.37 1048.63 708.6 1052.8C709.83 1056.97 711.18 1061.47 712.4 1066C713.62 1070.53 714.9 1075 715.9 1080C716.9 1085 717.62 1090.92 718.4 1096C719.18 1101.08 720.23 1108.08 720.6 1110.5"/>
<line x1="716.4" y1="1081.8" x2="747.4" y2="1081.8"/>
<line x1="716.6" y1="1085.2" x2="747.4" y2="1085.2" stroke-width="2.2"/>
<line x1="720.6" y1="1110" x2="747.4" y2="1110"/>
<path d="M720.6 1110.5L720.6 1115.8L725.2 1120.4L725.2 1151.2L724.7 1154.4L724.7 1166L716.5 1179.1L716.5 1218.6L719.1 1223.4L719.1 1234"/>
<line x1="720.6" y1="1115.8" x2="747.4" y2="1115.8"/>
<line x1="725.2" y1="1120.4" x2="747.4" y2="1120.4"/>
<line x1="725.2" y1="1151.2" x2="747.4" y2="1151.2" stroke-width="1.3"/>
<line x1="724.7" y1="1154.4" x2="747.4" y2="1154.4"/>
<line x1="724.7" y1="1166" x2="747.4" y2="1166"/>
<line x1="716.5" y1="1180.8" x2="747.4" y2="1180.8"/>
<line x1="716.5" y1="1218.6" x2="747.4" y2="1218.6"/>
<line x1="719.1" y1="1223.4" x2="747.4" y2="1223.4"/>
<line x1="719.1" y1="1228.3" x2="747.4" y2="1228.3"/>
<line x1="719.1" y1="1232.6" x2="747.4" y2="1232.6"/>
<line x1="722" y1="1236.1" x2="747.4" y2="1236.1"/>
<path d="M747.4 289V358M747.4 362V370" stroke-width="0.8" stroke="#3a3a3a"/><path d="M747.4 382V1500" stroke-width="0.8" stroke="#3a3a3a" stroke-dasharray="49 10 12 8"/><path d="M747.4 1500V1538.5" stroke-width="0.8" stroke="#3a3a3a"/>
<line x1="530" y1="324" x2="741.3" y2="324" class="dl"/>
<text class="ct" font-size="21.33" transform="translate(545.8 320.2) scale(0.643 1)" textLength="13.85" lengthAdjust="spacing">1</text>
<line x1="530" y1="368.2" x2="751.3" y2="368.2" class="dl"/>
<text class="ct" font-size="21.33" transform="translate(545.8 364.8) scale(0.643 1)" textLength="13.85" lengthAdjust="spacing">2</text>
<line x1="530" y1="651.4" x2="731.8" y2="651.4" class="dl"/>
<text class="ct" font-size="21.33" transform="translate(545.8 648.7) scale(0.643 1)" textLength="13.85" lengthAdjust="spacing">3</text>
<line x1="530" y1="940.2" x2="718" y2="940.2" class="dl"/>
<text class="ct" font-size="21.33" transform="translate(545.8 937.4) scale(0.643 1)" textLength="13.85" lengthAdjust="spacing">4</text>
<line x1="530" y1="1054.4" x2="730.6" y2="1054.4" class="dl"/>
<text class="ct" font-size="21.33" transform="translate(545.8 1052) scale(0.643 1)" textLength="13.85" lengthAdjust="spacing">5</text>
<line x1="530" y1="1249.1" x2="651.8" y2="1249.1" class="dl"/>
<text class="ct" font-size="21.33" transform="translate(545.8 1246.4) scale(0.643 1)" textLength="13.85" lengthAdjust="spacing">6</text>
<line x1="530" y1="1284.5" x2="645.8" y2="1284.5" class="dl"/>
<text class="ct" font-size="21.33" transform="translate(545.8 1282.7) scale(0.643 1)" textLength="13.85" lengthAdjust="spacing">7</text>
<line x1="530" y1="1314.4" x2="774.5" y2="1314.4" class="dl"/>
<text class="ct" font-size="21.33" transform="translate(545.8 1313) scale(0.643 1)" textLength="13.85" lengthAdjust="spacing">8</text>
<path d="M731.7 223.9V284.4M763.4 223.9V284.4" class="dl"/>
<line x1="712" y1="232.1" x2="783.8" y2="232.1" class="dl"/>
<path class="ar" d="M731.7 232.1L722.9 233.65L722.9 230.55Z"/>
<path class="ar" d="M763.4 232.1L772.2 230.55L772.2 233.65Z"/>
<text class="ct" font-size="16.61" transform="translate(740.7 226.6) scale(0.640 1)" textLength="21.56" lengthAdjust="spacing">96</text>
<path d="M739.7 243.3V288M756.4 243.3V288" class="dl"/>
<path d="M741.6 262V288M754.5 262V288" class="dl"/>
<line x1="719.5" y1="251.6" x2="775.8" y2="251.6" class="dl"/>
<path class="ar" d="M739.7 251.6L730.9 253.15L730.9 250.05Z"/>
<path class="ar" d="M756.4 251.6L765.2 250.05L765.2 253.15Z"/>
<text class="ct" font-size="15.67" transform="translate(740.8 245.6) scale(0.688 1)" textLength="20.34" lengthAdjust="spacing">50</text>
<line x1="720.5" y1="274" x2="775" y2="274" class="dl"/>
<path class="ar" d="M741.6 274L732.8 275.55L732.8 272.45Z"/>
<path class="ar" d="M754.5 274L763.3 272.45L763.3 275.55Z"/>
<text class="ct" font-size="16.43" transform="translate(740.8 268) scale(0.657 1)" textLength="21.32" lengthAdjust="spacing">40</text>
<text class="ct" font-size="16.05" transform="translate(688.4 261) scale(0.700 1)" textLength="37.43" lengthAdjust="spacing">R6.5</text>
<path d="M689.1 266.2H719.8L737.7 286.7" class="dl"/>
<path class="ar" d="M737.7 286.7L732.77 283.04L734.73 281.33Z"/>
<text class="ct2" font-size="16.61" transform="translate(783.3 252.6)" textLength="42.6" lengthAdjust="spacing">t=22</text>
<path d="M823.7 256.1H787.1L759.4 295.7" class="dl"/>
<line x1="785.6" y1="264.3" x2="785.6" y2="332.3" class="dl"/>
<path class="ar" d="M785.6 284.4L784.05 275.6L787.15 275.6Z"/>
<path class="ar" d="M785.6 312.1L787.15 320.9L784.05 320.9Z"/>
<line x1="763.4" y1="312.1" x2="793.5" y2="312.1" class="dl"/>
<text class="ct" font-size="17.37" transform="translate(779.6 305.4) rotate(-90) scale(0.599 1)" textLength="22.55" lengthAdjust="spacing">85</text>
<line x1="696.6" y1="268" x2="696.6" y2="324.8" class="dl"/>
<path class="ar" d="M696.6 288.2L695.05 279.4L698.15 279.4Z"/>
<path class="ar" d="M696.6 305.1L698.15 313.9L695.05 313.9Z"/>
<line x1="688.4" y1="288.2" x2="740" y2="288.2" class="dl"/>
<line x1="688.4" y1="305.1" x2="740" y2="305.1" class="dl"/>
<text class="ct" font-size="17.56" transform="translate(691.2 303.4) rotate(-90) scale(0.601 1)" textLength="22.79" lengthAdjust="spacing">50</text>
<line x1="720.2" y1="269.5" x2="720.2" y2="321.8" class="dl"/>
<path class="ar" d="M720.2 288.2L718.65 279.4L721.75 279.4Z"/>
<path class="ar" d="M720.2 301.6L721.75 310.4L718.65 310.4Z"/>
<line x1="709" y1="301.6" x2="742" y2="301.6" class="dl"/>
<text class="ct" font-size="16.43" transform="translate(713.6 301.8) rotate(-90) scale(0.629 1)" textLength="21.32" lengthAdjust="spacing">40</text>
<line x1="763.4" y1="284.4" x2="927" y2="284.4" class="dl"/>
<line x1="919.2" y1="284.4" x2="919.2" y2="1325.6" class="dl"/>
<path class="ar" d="M919.2 284.4L920.75 294.4L917.65 294.4Z"/>
<path class="ar" d="M919.2 1325.6L917.65 1315.6L920.75 1315.6Z"/>
<line x1="835.2" y1="1325.6" x2="927" y2="1325.6" class="dl"/>
<text class="ct" font-size="18.31" transform="translate(914 805.2) rotate(-90) scale(0.598 1)" textLength="86.97" lengthAdjust="spacing">3140±30</text>
<path d="M659.8 1012.7V1036.5M835.7 1012.7V1036.5" class="dl"/>
<line x1="586.9" y1="1027.9" x2="835.7" y2="1027.9" class="dl"/>
<path class="ar" d="M660.2 1027.9L669 1026.35L669 1029.45Z"/>
<path class="ar" d="M835.4 1027.9L826.6 1029.45L826.6 1026.35Z"/>
<text class="ct" font-size="16.61" transform="translate(592 1022.4) scale(0.633 1)" textLength="82.75" lengthAdjust="spacing">Φ530±10</text>
<path d="M640.6 1300V1365.5M854.8 1303.8V1366" class="dl"/>
<line x1="562.3" y1="1358" x2="874.8" y2="1358" class="dl"/>
<path class="ar" d="M640.2 1358L631.4 1359.55L631.4 1356.45Z"/>
<path class="ar" d="M855 1358L863.8 1356.45L863.8 1359.55Z"/>
<text class="ct" font-size="16.99" transform="translate(566.6 1352.6) scale(0.639 1)" textLength="69.67" lengthAdjust="spacing">645±10</text>
<path d="M714.3 1330V1400.3M781.1 1330V1400.3" class="dl"/>
<line x1="635.4" y1="1392.6" x2="781.1" y2="1392.6" class="dl"/>
<path class="ar" d="M714.6 1392.6L722.8 1391.05L722.8 1394.15Z"/>
<path class="ar" d="M780.8 1392.6L772.6 1394.15L772.6 1391.05Z"/>
<text class="ct" font-size="15.48" transform="translate(640.7 1385.5) scale(0.700 1)" textLength="45" lengthAdjust="spacing">Φ280</text>
<text class="cz" font-size="9.06" transform="translate(675.5 1384.6)" textLength="23.2" lengthAdjust="spacing">(最大)</text>
<path d="M825.1 1344V1396.4M835.6 1344V1396.4" class="dl"/>
<line x1="805.6" y1="1388.2" x2="907.1" y2="1388.2" class="dl"/>
<path class="ar" d="M825.1 1388.2L816.3 1389.75L816.3 1386.65Z"/>
<path class="ar" d="M835.6 1388.2L844.4 1386.65L844.4 1389.75Z"/>
<text class="ct" font-size="16.61" transform="translate(860.7 1382.5) scale(0.700 1)" textLength="58.57" lengthAdjust="spacing">4-M30</text>
<rect x="1059.5" y="1232.3" width="198.8" height="198.1" stroke-width="1.1"/>
<line x1="1059.5" y1="1232.3" x2="1258.3" y2="1232.3" stroke-width="1.6"/>
<line x1="1059.5" y1="1430.4" x2="1258.3" y2="1430.4" stroke-width="1.5"/>
<circle cx="1076" cy="1248.5" r="24.4" stroke-width="0.8" fill="#f7f7f7"/>
<circle cx="1076" cy="1248.5" r="14.8" stroke-width="0.8"/>
<path d="M1083.71 1252.95L1076 1257.4L1068.29 1252.95L1068.29 1244.05L1076 1239.6L1083.71 1244.05Z" stroke-width="0.9"/>
<circle cx="1076" cy="1248.5" r="6" stroke-width="0.8"/>
<circle cx="1076" cy="1248.5" r="3.2" stroke-width="0.8"/>
<line x1="1038" y1="1248.5" x2="1102" y2="1248.5" stroke-width="0.7"/>
<line x1="1076" y1="1222.5" x2="1076" y2="1274.5" stroke-width="0.7"/>
<circle cx="1241.9" cy="1248.5" r="24.4" stroke-width="0.8" fill="#f7f7f7"/>
<circle cx="1241.9" cy="1248.5" r="14.8" stroke-width="0.8"/>
<path d="M1249.61 1252.95L1241.9 1257.4L1234.19 1252.95L1234.19 1244.05L1241.9 1239.6L1249.61 1244.05Z" stroke-width="0.9"/>
<circle cx="1241.9" cy="1248.5" r="6" stroke-width="0.8"/>
<circle cx="1241.9" cy="1248.5" r="3.2" stroke-width="0.8"/>
<line x1="1215.9" y1="1248.5" x2="1267.9" y2="1248.5" stroke-width="0.7"/>
<line x1="1241.9" y1="1222.5" x2="1241.9" y2="1274.5" stroke-width="0.7"/>
<circle cx="1076" cy="1414.1" r="24.4" stroke-width="0.8" fill="#f7f7f7"/>
<circle cx="1076" cy="1414.1" r="14.8" stroke-width="0.8"/>
<path d="M1083.71 1418.55L1076 1423L1068.29 1418.55L1068.29 1409.65L1076 1405.2L1083.71 1409.65Z" stroke-width="0.9"/>
<circle cx="1076" cy="1414.1" r="6" stroke-width="0.8"/>
<circle cx="1076" cy="1414.1" r="3.2" stroke-width="0.8"/>
<line x1="1038" y1="1414.1" x2="1102" y2="1414.1" stroke-width="0.7"/>
<line x1="1076" y1="1388.1" x2="1076" y2="1440.1" stroke-width="0.7"/>
<circle cx="1241.9" cy="1414.1" r="24.4" stroke-width="0.8" fill="#f7f7f7"/>
<circle cx="1241.9" cy="1414.1" r="14.8" stroke-width="0.8"/>
<path d="M1249.61 1418.55L1241.9 1423L1234.19 1418.55L1234.19 1409.65L1241.9 1405.2L1249.61 1409.65Z" stroke-width="0.9"/>
<circle cx="1241.9" cy="1414.1" r="6" stroke-width="0.8"/>
<circle cx="1241.9" cy="1414.1" r="3.2" stroke-width="0.8"/>
<line x1="1215.9" y1="1414.1" x2="1267.9" y2="1414.1" stroke-width="0.7"/>
<line x1="1241.9" y1="1388.1" x2="1241.9" y2="1440.1" stroke-width="0.7"/>
<circle cx="1158.9" cy="1331.3" r="82.9" stroke-width="0.8" stroke-dasharray="26 4 3 4" stroke-dashoffset="13"/>
<circle cx="1241.8" cy="1331.3" r="4.5" stroke-width="1.5" fill="#4d4d4d"/>
<circle cx="1241.8" cy="1331.3" r="2" stroke-width="0.8" fill="#cfcfcf"/>
<circle cx="1241.8" cy="1331.3" r="0.8" stroke-width="0.3" fill="#333"/>
<circle cx="1230.69" cy="1372.75" r="4.5" stroke-width="1.5" fill="#4d4d4d"/>
<circle cx="1230.69" cy="1372.75" r="2" stroke-width="0.8" fill="#cfcfcf"/>
<circle cx="1230.69" cy="1372.75" r="0.8" stroke-width="0.3" fill="#333"/>
<circle cx="1200.35" cy="1403.09" r="4.5" stroke-width="1.5" fill="#4d4d4d"/>
<circle cx="1200.35" cy="1403.09" r="2" stroke-width="0.8" fill="#cfcfcf"/>
<circle cx="1200.35" cy="1403.09" r="0.8" stroke-width="0.3" fill="#333"/>
<circle cx="1158.9" cy="1414.2" r="4.5" stroke-width="1.5" fill="#4d4d4d"/>
<circle cx="1158.9" cy="1414.2" r="2" stroke-width="0.8" fill="#cfcfcf"/>
<circle cx="1158.9" cy="1414.2" r="0.8" stroke-width="0.3" fill="#333"/>
<circle cx="1117.45" cy="1403.09" r="4.5" stroke-width="1.5" fill="#4d4d4d"/>
<circle cx="1117.45" cy="1403.09" r="2" stroke-width="0.8" fill="#cfcfcf"/>
<circle cx="1117.45" cy="1403.09" r="0.8" stroke-width="0.3" fill="#333"/>
<circle cx="1087.11" cy="1372.75" r="4.5" stroke-width="1.5" fill="#4d4d4d"/>
<circle cx="1087.11" cy="1372.75" r="2" stroke-width="0.8" fill="#cfcfcf"/>
<circle cx="1087.11" cy="1372.75" r="0.8" stroke-width="0.3" fill="#333"/>
<circle cx="1076" cy="1331.3" r="4.5" stroke-width="1.5" fill="#4d4d4d"/>
<circle cx="1076" cy="1331.3" r="2" stroke-width="0.8" fill="#cfcfcf"/>
<circle cx="1076" cy="1331.3" r="0.8" stroke-width="0.3" fill="#333"/>
<circle cx="1087.11" cy="1289.85" r="4.5" stroke-width="1.5" fill="#4d4d4d"/>
<circle cx="1087.11" cy="1289.85" r="2" stroke-width="0.8" fill="#cfcfcf"/>
<circle cx="1087.11" cy="1289.85" r="0.8" stroke-width="0.3" fill="#333"/>
<circle cx="1117.45" cy="1259.51" r="4.5" stroke-width="1.5" fill="#4d4d4d"/>
<circle cx="1117.45" cy="1259.51" r="2" stroke-width="0.8" fill="#cfcfcf"/>
<circle cx="1117.45" cy="1259.51" r="0.8" stroke-width="0.3" fill="#333"/>
<circle cx="1158.9" cy="1248.4" r="4.5" stroke-width="1.5" fill="#4d4d4d"/>
<circle cx="1158.9" cy="1248.4" r="2" stroke-width="0.8" fill="#cfcfcf"/>
<circle cx="1158.9" cy="1248.4" r="0.8" stroke-width="0.3" fill="#333"/>
<circle cx="1200.35" cy="1259.51" r="4.5" stroke-width="1.5" fill="#4d4d4d"/>
<circle cx="1200.35" cy="1259.51" r="2" stroke-width="0.8" fill="#cfcfcf"/>
<circle cx="1200.35" cy="1259.51" r="0.8" stroke-width="0.3" fill="#333"/>
<circle cx="1230.69" cy="1289.85" r="4.5" stroke-width="1.5" fill="#4d4d4d"/>
<circle cx="1230.69" cy="1289.85" r="2" stroke-width="0.8" fill="#cfcfcf"/>
<circle cx="1230.69" cy="1289.85" r="0.8" stroke-width="0.3" fill="#333"/>
<circle cx="1158.9" cy="1331.3" r="39.7" stroke-width="0.8"/>
<circle cx="1158.9" cy="1331.3" r="28" stroke-width="0.9"/>
<circle cx="1158.9" cy="1331.3" r="26.3" stroke-width="1.0"/>
<path d="M1075.9 1331.3H1241.9" stroke-width="0.8" stroke-dasharray="28 10 10 10 50 10 10 10 28 200"/>
<path d="M1158.9 1248.3V1414.3" stroke-width="0.8" stroke-dasharray="28 10 10 10 50 10 10 10 28 200"/>
<path d="M1059.5 1184.8V1273.3M1258.3 1184.8V1273.3" class="dl"/>
<line x1="1059.5" y1="1192.4" x2="1258.3" y2="1192.4" class="dl"/>
<path class="ar" d="M1059.5 1192.4L1068.5 1190.85L1068.5 1193.95Z"/>
<path class="ar" d="M1258.3 1192.4L1249.3 1193.95L1249.3 1190.85Z"/>
<text class="ct" font-size="16.05" transform="translate(1148 1186.6) scale(0.691 1)" textLength="31.24" lengthAdjust="spacing">600</text>
<path d="M1076 1207.9V1248M1241.9 1207.9V1248" class="dl"/>
<line x1="1076" y1="1215.8" x2="1241.9" y2="1215.8" class="dl"/>
<path class="ar" d="M1076 1215.8L1085 1214.25L1085 1217.35Z"/>
<path class="ar" d="M1241.9 1215.8L1232.9 1217.35L1232.9 1214.25Z"/>
<text class="ct" font-size="16.43" transform="translate(1134.75 1210.2) scale(0.670 1)" textLength="72.67" lengthAdjust="spacing">500±0.5</text>
<path d="M1015 1232.3H1100.5M1015 1430.8H1100.5" class="dl"/>
<line x1="1022.7" y1="1232.3" x2="1022.7" y2="1430.4" class="dl"/>
<path class="ar" d="M1022.7 1232.3L1024.25 1241.3L1021.15 1241.3Z"/>
<path class="ar" d="M1022.7 1430.4L1021.15 1421.4L1024.25 1421.4Z"/>
<text class="ct" font-size="16.61" transform="translate(1017.2 1342.3) rotate(-90) scale(0.680 1)" textLength="32.35" lengthAdjust="spacing">600</text>
<path d="M1037.5 1248.5H1052M1037.5 1414.1H1052" class="dl"/>
<line x1="1045.1" y1="1248.5" x2="1045.1" y2="1414.1" class="dl"/>
<path class="ar" d="M1045.1 1248.5L1046.65 1257.5L1043.55 1257.5Z"/>
<path class="ar" d="M1045.1 1414.1L1043.55 1405.1L1046.65 1405.1Z"/>
<text class="ct" font-size="17.56" transform="translate(1039.7 1355.7) rotate(-90) scale(0.626 1)" textLength="77.69" lengthAdjust="spacing">500±0.5</text>
</g></svg>
</body></html>
